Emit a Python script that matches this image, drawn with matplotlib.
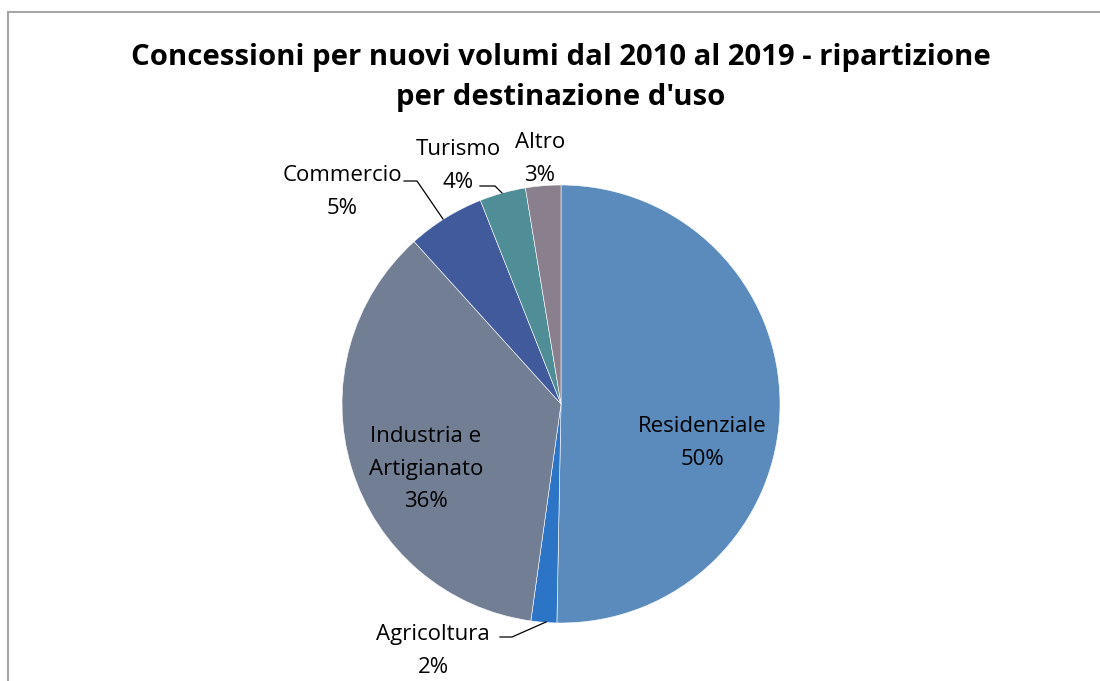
import numpy as np
import matplotlib
matplotlib.use("Agg")
import matplotlib.pyplot as plt
from matplotlib.lines import Line2D

categories = ["Residenziale", "Agricoltura", "Industria e\nArtigianato",
              "Commercio", "Turismo", "Altro"]
values = [50.3, 1.9, 36.1, 5.7, 3.4, 2.6]
pct_labels = ["50%", "2%", "36%", "5%", "4%", "3%"]
colors = ["#5A8BBC", "#2C74C5", "#717E94", "#405A9B", "#4F8D97", "#8A7F8C"]

plt.rcParams["font.family"] = ["Open Sans", "DejaVu Sans"]

W, H = 1100, 681
fig = plt.figure(figsize=(W / 100, H / 100), dpi=100)

# chart frame (only top and left visible)
fig.add_artist(Line2D([8 / W, 8 / W], [0, 1 - 12 / H], transform=fig.transFigure,
                      color="#A6A6A6", lw=1.5))
fig.add_artist(Line2D([8 / W, 1], [1 - 12 / H, 1 - 12 / H], transform=fig.transFigure,
                      color="#A6A6A6", lw=1.5))

fig.text(561 / W, 1 - 58 / H, "Concessioni per nuovi volumi dal 2010 al 2019 - ripartizione",
         ha="center", va="center", fontsize=21.1, fontweight="bold")
fig.text(561 / W, 1 - 98 / H, "per destinazione d'uso",
         ha="center", va="center", fontsize=21.1, fontweight="bold")

cx, cy, r = 561, 404, 219
ax = fig.add_axes([(cx - r) / W, 1 - (cy + r) / H, 2 * r / W, 2 * r / H])
ax.pie(values, colors=colors, startangle=90, counterclock=False, radius=1,
       wedgeprops=dict(edgecolor="white", linewidth=0.4))
ax.set_xlim(-1, 1)
ax.set_ylim(-1, 1)
ax.set_axis_off()

# label positions in pixels (center of text block)
label_pos = [(702, 443), (433, 651), (426, 469), (342, 192), (458, 166), (540, 159)]
for name, pct, (px, py) in zip(categories, pct_labels, label_pos):
    fig.text(px / W, 1 - py / H, name + "\n" + pct, ha="center", va="center",
             fontsize=16, linespacing=1.72, color="#000000")

# leader lines
leaders = [
    [(404, 181), (417, 181), (443, 219)],
    [(480, 186), (495, 186), (502, 193)],
    [(500, 637), (512, 637), (546, 622)],
]
for pts in leaders:
    xs = [p[0] / W for p in pts]
    ys = [1 - p[1] / H for p in pts]
    fig.add_artist(Line2D(xs, ys, transform=fig.transFigure, color="black", lw=0.9))

fig.savefig("out.png", dpi=100)
